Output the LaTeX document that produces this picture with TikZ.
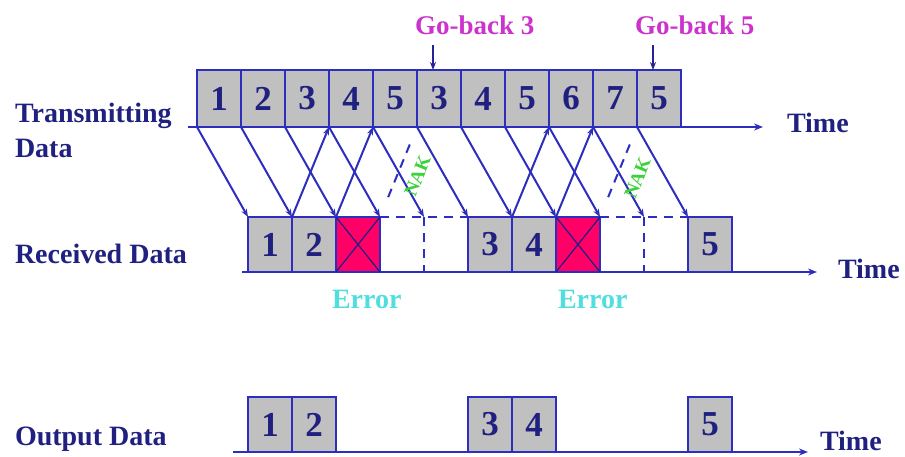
\documentclass[tikz,border=0pt]{standalone}
\usepackage{fontspec}
\setmainfont{Liberation Serif}
\usetikzlibrary{arrows.meta,calc}
\definecolor{lb}{RGB}{45,45,190}
\definecolor{navy}{RGB}{32,32,128}
\definecolor{boxgray}{RGB}{192,192,192}
\definecolor{errred}{RGB}{255,0,102}
\definecolor{gbmag}{RGB}{204,51,204}
\definecolor{errcyan}{RGB}{80,222,222}
\definecolor{nakgreen}{RGB}{60,210,60}
\begin{document}
\begin{tikzpicture}[x=1pt,y=-1pt,
  every node/.style={inner sep=0pt, outer sep=0pt},
  tbox/.style={draw=lb, line width=2pt, fill=boxgray, minimum width=44pt, minimum height=57pt,
    text=navy, font=\fontsize{35}{35}\selectfont\bfseries},
  rbox/.style={tbox, minimum height=55pt},
  ebox/.style={rbox, fill=errred},
  slot/.style={minimum width=44pt, minimum height=55pt},
  lab/.style={text=navy, font=\fontsize{28}{30}\selectfont\bfseries},
  axisline/.style={draw=lb, line width=2pt, -{Stealth[length=9pt,width=7pt]}},
  dline/.style={draw=lb, line width=2pt, -{Stealth[length=8pt,width=6pt]}},
  ackline/.style={dline},
  nakline/.style={draw=lb, line width=2pt, dash pattern=on 9pt off 7pt},
  wdash/.style={draw=lb, line width=2pt, dash pattern=on 9pt off 7pt},
  xline/.style={draw=lb!70!black, line width=1.2pt},
  gblab/.style={text=gbmag, font=\fontsize{27}{29}\selectfont\bfseries},
  gbarr/.style={draw=lb!80!black, line width=1.8pt, -{Stealth[length=8pt,width=6pt]}},
  errlab/.style={text=errcyan, font=\fontsize{28}{30}\selectfont\bfseries},
  naklab/.style={text=nakgreen, font=\fontsize{19}{20}\selectfont\bfseries}
]
\useasboundingbox[fill=white] (0,0) rectangle (905,457);

% left labels
\node[lab, anchor=base west] (ltx1) at (15,123) {Transmitting};
\node[lab, anchor=base west] (ltx2) at (15,158) {Data};
\node[lab, anchor=base west] (lrx) at (15,263) {Received Data};
\node[lab, anchor=base west] (lout) at (15,445) {Output Data};

% time labels
\node[lab, anchor=base west] (tt) at (787,133) {Time};
\node[lab, anchor=base west] (rt) at (838,278) {Time};
\node[lab, anchor=base west] (ot) at (820,450) {Time};

% axes
\coordinate (ta0) at (188,127); \coordinate (ta1) at (763,127);
\coordinate (ra0) at (242,272); \coordinate (ra1) at (817,272);
\coordinate (oa0) at (233,452); \coordinate (oa1) at (808,452);
\draw[axisline] (ta0) -- (ta1);
\draw[axisline] (ra0) -- (ra1);
\draw[axisline] (oa0) -- (oa1);

% transmitted frames
\foreach \i/\l in {1/1,2/2,3/3,4/4,5/5,6/3,7/4,8/5,9/6,10/7,11/5}
  \node[tbox] (t\i) at ({197+44*(\i-0.5)},98.5) {\l};

% received slots
\node[rbox] (r1) at ({248+44*0.5},244.5) {1};
\node[rbox] (r2) at ({248+44*1.5},244.5) {2};
\node[ebox] (r3) at ({248+44*2.5},244.5) {};
\node[slot] (r4) at ({248+44*3.5},244.5) {};
\node[slot] (r5) at ({248+44*4.5},244.5) {};
\node[rbox] (r6) at ({248+44*5.5},244.5) {3};
\node[rbox] (r7) at ({248+44*6.5},244.5) {4};
\node[ebox] (r8) at ({248+44*7.5},244.5) {};
\node[slot] (r9) at ({248+44*8.5},244.5) {};
\node[slot] (r10) at ({248+44*9.5},244.5) {};
\node[rbox] (r11) at ({248+44*10.5},244.5) {5};

% crosses in error boxes
\draw[xline] (r3.north west) -- (r3.south east) (r3.north east) -- (r3.south west);
\draw[xline] (r8.north west) -- (r8.south east) (r8.north east) -- (r8.south west);

% discarded slots (dashed)
\draw[wdash] (r4.north west) -- (r5.north east);
\draw[wdash] (r5.north west) -- (r5.south west);
\draw[wdash] (r9.north west) -- (r10.north east);
\draw[wdash] (r10.north west) -- (r10.south west);

% output frames
\node[rbox] (o1) at ({248+44*0.5},424.5) {1};
\node[rbox] (o2) at ({248+44*1.5},424.5) {2};
\node[rbox] (o3) at ({248+44*5.5},424.5) {3};
\node[rbox] (o4) at ({248+44*6.5},424.5) {4};
\node[rbox] (o5) at ({248+44*10.5},424.5) {5};

% data frames in transit
\foreach \i in {1,...,11}
  \draw[dline] (t\i.south west) -- (r\i.north west);

% acknowledgements
\draw[ackline] (r1.north east) -- (t3.south east);
\draw[ackline] (r2.north east) -- (t4.south east);
\draw[ackline] (r6.north east) -- (t8.south east);
\draw[ackline] (r7.north east) -- (t9.south east);

% negative acknowledgements
\draw[nakline] ($(r3.north east)!0.22!(t5.south east)$) -- ($(r3.north east)!0.86!(t5.south east)$);
\draw[nakline] ($(r8.north east)!0.22!(t10.south east)$) -- ($(r8.north east)!0.86!(t10.south east)$);
\node[naklab, rotate=68] (nak1) at ($(r3.north east)!0.5!(t5.south east)+(19,4)$) {NAK};
\node[naklab, rotate=68] (nak2) at ($(r8.north east)!0.5!(t10.south east)+(19,6)$) {NAK};

% error labels
\node[errlab, anchor=base west] (e1) at (332,308) {Error};
\node[errlab, anchor=base west] (e2) at (558,308) {Error};

% go-back labels
\node[gblab, anchor=base west] (gb3) at (415,35) {Go-back 3};
\node[gblab, anchor=base west] (gb5) at (635,35) {Go-back 5};
\coordinate (g3) at (433,45);
\coordinate (g5) at (653,45);
\draw[gbarr] (g3) -- (g3 |- t6.north);
\draw[gbarr] (g5) -- (g5 |- t11.north);
\end{tikzpicture}
\end{document}
